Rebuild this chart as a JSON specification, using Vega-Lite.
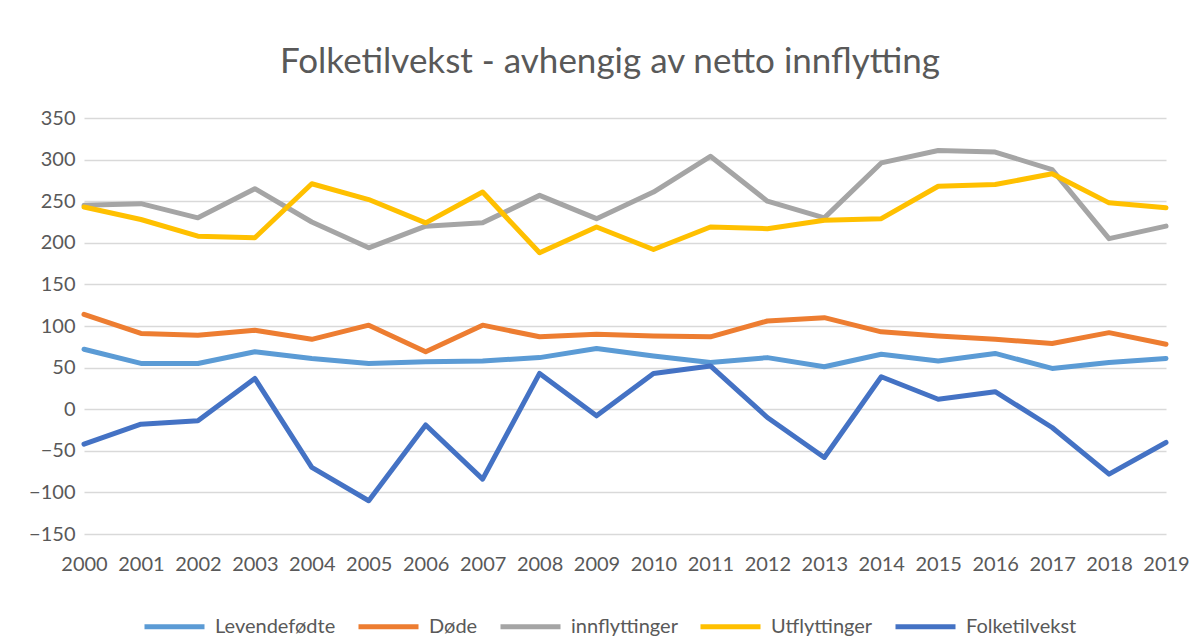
{
  "$schema": "https://vega.github.io/schema/vega-lite/v6.json",
  "width": 1082,
  "height": 416,
  "autosize": {"type": "none"},
  "padding": {"left": 84, "top": 118, "right": 38, "bottom": 103},
  "background": "white",
  "title": {
    "text": "Folketilvekst - avhengig av netto innflytting",
    "font": "Lato",
    "fontSize": 35,
    "fontWeight": "normal",
    "color": "#595959",
    "anchor": "middle",
    "dx": -15,
    "offset": 28
  },
  "config": {
    "view": {"stroke": null},
    "font": "Lato"
  },
  "data": {
    "values": [
      {"year": "2000", "series": "Levendefødte", "value": 72},
      {"year": "2001", "series": "Levendefødte", "value": 55},
      {"year": "2002", "series": "Levendefødte", "value": 55},
      {"year": "2003", "series": "Levendefødte", "value": 69},
      {"year": "2004", "series": "Levendefødte", "value": 61},
      {"year": "2005", "series": "Levendefødte", "value": 55},
      {"year": "2006", "series": "Levendefødte", "value": 57},
      {"year": "2007", "series": "Levendefødte", "value": 58},
      {"year": "2008", "series": "Levendefødte", "value": 62},
      {"year": "2009", "series": "Levendefødte", "value": 73},
      {"year": "2010", "series": "Levendefødte", "value": 64},
      {"year": "2011", "series": "Levendefødte", "value": 56},
      {"year": "2012", "series": "Levendefødte", "value": 62},
      {"year": "2013", "series": "Levendefødte", "value": 51},
      {"year": "2014", "series": "Levendefødte", "value": 66},
      {"year": "2015", "series": "Levendefødte", "value": 58},
      {"year": "2016", "series": "Levendefødte", "value": 67},
      {"year": "2017", "series": "Levendefødte", "value": 49},
      {"year": "2018", "series": "Levendefødte", "value": 56},
      {"year": "2019", "series": "Levendefødte", "value": 61},
      {"year": "2000", "series": "Døde", "value": 114},
      {"year": "2001", "series": "Døde", "value": 91},
      {"year": "2002", "series": "Døde", "value": 89},
      {"year": "2003", "series": "Døde", "value": 95},
      {"year": "2004", "series": "Døde", "value": 84},
      {"year": "2005", "series": "Døde", "value": 101},
      {"year": "2006", "series": "Døde", "value": 69},
      {"year": "2007", "series": "Døde", "value": 101},
      {"year": "2008", "series": "Døde", "value": 87},
      {"year": "2009", "series": "Døde", "value": 90},
      {"year": "2010", "series": "Døde", "value": 88},
      {"year": "2011", "series": "Døde", "value": 87},
      {"year": "2012", "series": "Døde", "value": 106},
      {"year": "2013", "series": "Døde", "value": 110},
      {"year": "2014", "series": "Døde", "value": 93},
      {"year": "2015", "series": "Døde", "value": 88},
      {"year": "2016", "series": "Døde", "value": 84},
      {"year": "2017", "series": "Døde", "value": 79},
      {"year": "2018", "series": "Døde", "value": 92},
      {"year": "2019", "series": "Døde", "value": 78},
      {"year": "2000", "series": "innflyttinger", "value": 245},
      {"year": "2001", "series": "innflyttinger", "value": 247},
      {"year": "2002", "series": "innflyttinger", "value": 230},
      {"year": "2003", "series": "innflyttinger", "value": 265},
      {"year": "2004", "series": "innflyttinger", "value": 225},
      {"year": "2005", "series": "innflyttinger", "value": 194},
      {"year": "2006", "series": "innflyttinger", "value": 220},
      {"year": "2007", "series": "innflyttinger", "value": 224},
      {"year": "2008", "series": "innflyttinger", "value": 257},
      {"year": "2009", "series": "innflyttinger", "value": 229},
      {"year": "2010", "series": "innflyttinger", "value": 261},
      {"year": "2011", "series": "innflyttinger", "value": 304},
      {"year": "2012", "series": "innflyttinger", "value": 250},
      {"year": "2013", "series": "innflyttinger", "value": 230},
      {"year": "2014", "series": "innflyttinger", "value": 296},
      {"year": "2015", "series": "innflyttinger", "value": 311},
      {"year": "2016", "series": "innflyttinger", "value": 309},
      {"year": "2017", "series": "innflyttinger", "value": 288},
      {"year": "2018", "series": "innflyttinger", "value": 205},
      {"year": "2019", "series": "innflyttinger", "value": 220},
      {"year": "2000", "series": "Utflyttinger", "value": 243},
      {"year": "2001", "series": "Utflyttinger", "value": 228},
      {"year": "2002", "series": "Utflyttinger", "value": 208},
      {"year": "2003", "series": "Utflyttinger", "value": 206},
      {"year": "2004", "series": "Utflyttinger", "value": 271},
      {"year": "2005", "series": "Utflyttinger", "value": 252},
      {"year": "2006", "series": "Utflyttinger", "value": 224},
      {"year": "2007", "series": "Utflyttinger", "value": 261},
      {"year": "2008", "series": "Utflyttinger", "value": 188},
      {"year": "2009", "series": "Utflyttinger", "value": 219},
      {"year": "2010", "series": "Utflyttinger", "value": 192},
      {"year": "2011", "series": "Utflyttinger", "value": 219},
      {"year": "2012", "series": "Utflyttinger", "value": 217},
      {"year": "2013", "series": "Utflyttinger", "value": 227},
      {"year": "2014", "series": "Utflyttinger", "value": 229},
      {"year": "2015", "series": "Utflyttinger", "value": 268},
      {"year": "2016", "series": "Utflyttinger", "value": 270},
      {"year": "2017", "series": "Utflyttinger", "value": 283},
      {"year": "2018", "series": "Utflyttinger", "value": 248},
      {"year": "2019", "series": "Utflyttinger", "value": 242},
      {"year": "2000", "series": "Folketilvekst", "value": -42},
      {"year": "2001", "series": "Folketilvekst", "value": -18},
      {"year": "2002", "series": "Folketilvekst", "value": -14},
      {"year": "2003", "series": "Folketilvekst", "value": 37},
      {"year": "2004", "series": "Folketilvekst", "value": -70},
      {"year": "2005", "series": "Folketilvekst", "value": -110},
      {"year": "2006", "series": "Folketilvekst", "value": -19},
      {"year": "2007", "series": "Folketilvekst", "value": -84},
      {"year": "2008", "series": "Folketilvekst", "value": 43},
      {"year": "2009", "series": "Folketilvekst", "value": -8},
      {"year": "2010", "series": "Folketilvekst", "value": 43},
      {"year": "2011", "series": "Folketilvekst", "value": 52},
      {"year": "2012", "series": "Folketilvekst", "value": -10},
      {"year": "2013", "series": "Folketilvekst", "value": -58},
      {"year": "2014", "series": "Folketilvekst", "value": 39},
      {"year": "2015", "series": "Folketilvekst", "value": 12},
      {"year": "2016", "series": "Folketilvekst", "value": 21},
      {"year": "2017", "series": "Folketilvekst", "value": -22},
      {"year": "2018", "series": "Folketilvekst", "value": -78},
      {"year": "2019", "series": "Folketilvekst", "value": -40}
    ]
  },
  "mark": {"type": "line", "strokeWidth": 5, "strokeCap": "round", "strokeJoin": "round"},
  "encoding": {
    "x": {
      "field": "year",
      "type": "ordinal",
      "scale": {"type": "point", "padding": 0},
      "axis": {
        "title": null,
        "labelAngle": 0,
        "labelFont": "Lato",
        "labelFontSize": 20,
        "labelColor": "#595959",
        "labelPadding": 20,
        "ticks": false,
        "domain": false,
        "grid": false
      }
    },
    "y": {
      "field": "value",
      "type": "quantitative",
      "scale": {"domain": [-150, 350], "nice": false, "zero": false},
      "axis": {
        "title": null,
        "values": [-150, -100, -50, 0, 50, 100, 150, 200, 250, 300, 350],
        "labelFont": "Lato",
        "labelFontSize": 20,
        "labelColor": "#595959",
        "labelPadding": 9,
        "ticks": false,
        "domain": false,
        "grid": true,
        "gridColor": "#D9D9D9",
        "gridWidth": 1.5
      }
    },
    "color": {
      "field": "series",
      "type": "nominal",
      "sort": ["Levendefødte", "Døde", "innflyttinger", "Utflyttinger", "Folketilvekst"],
      "scale": {
        "domain": ["Levendefødte", "Døde", "innflyttinger", "Utflyttinger", "Folketilvekst"],
        "range": ["#5B9BD5", "#ED7D31", "#A5A5A5", "#FFC000", "#4472C4"]
      },
      "legend": {
        "title": null,
        "orient": "none",
        "legendX": 58,
        "legendY": 476,
        "direction": "horizontal",
        "columns": 5,
        "symbolType": "stroke",
        "symbolSize": 3600,
        "symbolStrokeWidth": 5,
        "labelFont": "Lato",
        "labelFontSize": 20,
        "labelColor": "#595959",
        "labelOffset": 8,
        "columnPadding": 12
      }
    },
    "order": {"field": "year"}
  }
}
